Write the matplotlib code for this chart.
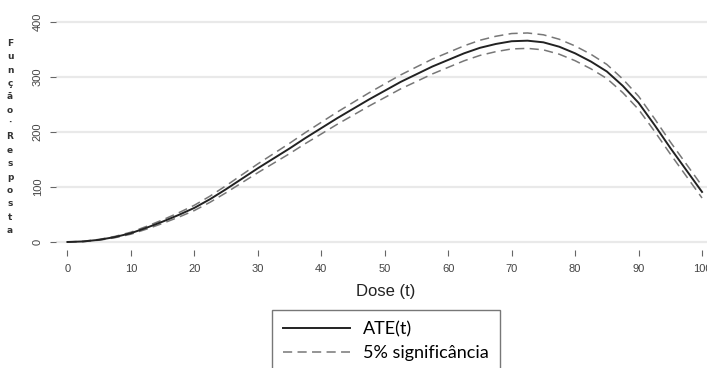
import matplotlib
matplotlib.use("Agg")
import matplotlib.pyplot as plt

plt.rcParams["font.family"] = ["Liberation Sans", "DejaVu Sans"]

# dose values and estimated response curve with 5% bounds
dose = [0, 2.5, 5, 7.5, 10, 12.5, 15, 17.5, 20, 22.5, 25, 27.5, 30,
        32.5, 35, 37.5, 40, 42.5, 45, 47.5, 50, 52.5, 55, 57.5, 60,
        62.5, 65, 67.5, 70, 72.5, 75, 77.5, 80, 82.5, 85, 87.5, 90,
        92.5, 95, 97.5, 100]
ate = [0, 1, 4, 9, 16, 26, 37, 49, 62, 78, 96, 115, 134,
       152, 170, 189, 207, 225, 242, 259, 275, 291, 305, 319, 331,
       343, 353, 360, 365, 366, 363, 355, 343, 328, 310, 284, 253,
       213, 171, 131, 91]
upper = [0, 1.3, 4.7, 10.2, 17.8, 28.5, 40.2, 53, 66.8, 83.6, 102.4, 122.2, 142,
         160.7, 179.4, 199, 217.6, 236.1, 253.6, 271, 287.4, 303.7, 318.2, 332.5, 344.5,
         356.6, 366.8, 374, 379, 380, 376.7, 368.6, 356.4, 341.2, 322.8, 296.4, 265,
         224.5, 182, 142, 102]
lower = [0, 0.7, 3.3, 7.8, 14.2, 23.5, 33.8, 45, 57.2, 72.4, 89.6, 107.8, 126,
         143.3, 160.6, 179, 196.4, 213.9, 230.4, 247, 262.6, 278.3, 291.8, 305.5, 317.5,
         329.4, 339.2, 346, 351, 352, 349.3, 341.4, 329.6, 314.8, 297.2, 271.6, 241,
         201.5, 160, 120, 80]

xticks = [0, 10, 20, 30, 40, 50, 60, 70, 80, 90, 100]
yticks = [0, 100, 200, 300, 400]
ylabel_text = "Função·Resposta"

fig = plt.figure(figsize=(7.07, 3.68), dpi=100)
ax = fig.add_axes([56 / 707, 0.320, 660 / 707, 0.6427])

# light horizontal grid
for v in yticks:
    ax.axhline(v, color="#e9e9e9", lw=1.6, zorder=0)

ax.plot(dose, ate, color="#222222", lw=1.4, label="ATE(t)", zorder=3)
ax.plot(dose, upper, color="#777777", lw=1.1, dashes=(6, 3.5),
        label="5% significância", zorder=2)
ax.plot(dose, lower, color="#777777", lw=1.1, dashes=(6, 3.5), zorder=2)

ax.set_xlim(-1.8, 102.2)
ax.set_ylim(-15, 415)

for s in ax.spines.values():
    s.set_visible(False)

ax.set_xticks(xticks)
ax.set_yticks(yticks)
ax.tick_params(axis="x", length=4, width=0.8, color="#666666", pad=6,
               labelsize=8, labelcolor="#444444", direction="out")
ax.tick_params(axis="y", length=4.5, width=0.8, color="#666666", pad=5,
               labelsize=8, labelcolor="#444444", direction="out")
for lbl in ax.get_yticklabels():
    lbl.set_rotation(90)
    lbl.set_va("center")

ax.set_xlabel("Dose (t)", fontsize=12, color="#222222", labelpad=7)

# stacked vertical y label
fig.text(10 / 707, 1 - 137 / 368, "\n".join(ylabel_text), fontsize=6.5,
         fontweight="bold", family="DejaVu Sans", color="#333333",
         ha="center", va="center", linespacing=1.62)

handles, labels = ax.get_legend_handles_labels()
leg = fig.legend(handles, labels, loc="upper left",
                 bbox_to_anchor=(272 / 707, 1 - 310 / 368),
                 prop={"family": "Lato", "size": 13},
                 frameon=True, fancybox=False, edgecolor="#555555",
                 handlelength=3.7, handletextpad=0.7, labelspacing=0.45,
                 borderpad=0.62, borderaxespad=0)
leg.get_frame().set_linewidth(1.0)

fig.savefig("out.png", dpi=100)
